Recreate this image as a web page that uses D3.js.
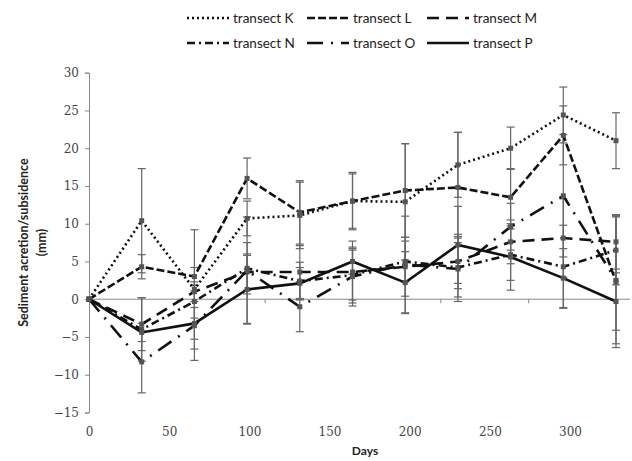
<!DOCTYPE html>
<html>
<head>
<meta charset="utf-8">
<script src="https://cdn.jsdelivr.net/npm/d3@7"></script>
<style>
  body { margin: 0; background: #fff; }
  svg text { font-family: Lato, "Open Sans", sans-serif; }
</style>
</head>
<body>
<svg id="chart" width="632" height="461"></svg>
<script>
const days = [0, 30, 60, 90, 120, 150, 180, 210, 240, 270, 300];
const seriesNames = ['transect K', 'transect L', 'transect M', 'transect N', 'transect O', 'transect P'];

const valuesK = [0, 10.4, 1.3, 10.7, 11.1, 13.0, 12.9, 17.8, 20.0, 24.4, 21.0];
const valuesL = [0, 4.3, 3.0, 16.0, 11.5, 13.0, 14.4, 14.8, 13.5, 21.7, 2.3];
const valuesM = [0, -3.3, 1.0, 3.6, 3.6, 3.6, 4.3, 5.0, 7.6, 8.1, 7.6];
const valuesN = [0, -4.0, -0.3, 4.1, 2.4, 3.2, 5.0, 4.2, 5.9, 4.3, 6.5];
const valuesO = [0, -8.3, -3.5, 3.8, -1.0, 3.0, 4.6, 4.0, 9.6, 13.7, 2.5];
const valuesP = [0, -4.4, -3.2, 1.3, 2.1, 5.0, 2.2, 7.2, 5.6, 2.8, -0.3];

const errK = [0, 6.9, 7.9, 2.3, 4.4, 3.8, 7.7, 4.3, 2.8, 3.7, 3.7];
const errL = [0, 1.6, 1.2, 2.7, 4.2, 3.6, 6.2, 7.3, 3.8, 3.9, 8.7];
const errM = [0, 3.5, 1.3, 2.4, 3.5, 4.1, 3.9, 3.6, 2.9, 5.2, 3.6];
const errN = [0, 4.2, 2.2, 3.4, 2.5, 3.3, 2.7, 3.9, 3.4, 5.5, 4.6];
const errO = [0, 4.1, 4.6, 7.1, 3.3, 3.9, 6.4, 4.3, 3.1, 8.1, 8.4];
const errP = [0, 1.2, 2.1, 4.5, 2.1, 1.7, 4.1, 5.1, 4.4, 3.9, 3.8];

const yTicks = [-15, -10, -5, 0, 5, 10, 15, 20, 25, 30];
const xTickLabels = [0, 50, 100, 150, 200, 250, 300];

const allValues = [valuesK, valuesL, valuesM, valuesN, valuesO, valuesP];
const allErrors = [errK, errL, errM, errN, errO, errP];

// dash patterns, same order as the series
const dashes = ['2,3', '8,3', '12,7', '8,4,2,4', '16,8,2,8', null];

const svg = d3.select('#chart');

const x = d3.scaleLinear().domain([0, 300]).range([89, 616]);
const y = d3.scaleLinear().domain([-15, 30]).range([412.5, 72.7]);
// the day labels under the chart sit on their own spacing
const xLabel = d3.scaleLinear().domain([0, 300]).range([89, 570]);

// y axis
const yAxis = svg.append('g')
  .attr('transform', `translate(${x(0)},0)`)
  .call(d3.axisLeft(y).tickValues(yTicks).tickSize(4).tickPadding(6));
yAxis.selectAll('path, line').attr('stroke', '#888');
yAxis.selectAll('text')
  .style('font-family', '"DejaVu Serif", serif')
  .style('font-size', '12px').style('fill', '#444');

// zero line with small ticks
const zeroAxis = svg.append('g')
  .attr('transform', `translate(0,${y(0)})`)
  .call(d3.axisBottom(x).tickValues(xTickLabels.slice(1)).tickSize(4).tickFormat(''));
zeroAxis.select('.domain').remove();
zeroAxis.selectAll('line').attr('stroke', '#888');
svg.append('line')
  .attr('x1', x(0)).attr('x2', 630)
  .attr('y1', y(0)).attr('y2', y(0))
  .attr('stroke', '#888');

// day labels
const labelAxis = svg.append('g')
  .attr('transform', 'translate(0,424)')
  .call(d3.axisBottom(xLabel).tickValues(xTickLabels).tickSize(0));
labelAxis.select('.domain').remove();
labelAxis.selectAll('text')
  .style('font-family', '"DejaVu Serif", serif')
  .style('font-size', '12px').style('fill', '#444');

// axis titles
svg.append('text')
  .attr('x', 365).attr('y', 455)
  .attr('text-anchor', 'middle')
  .style('font-size', '12px').style('font-weight', 'bold').style('fill', '#222')
  .text('Days');

const yTitle = svg.append('text')
  .attr('transform', `translate(0,${(y(-15) + y(30)) / 2}) rotate(-90)`)
  .attr('text-anchor', 'middle')
  .style('font-size', '12.5px').style('font-weight', 'bold').style('fill', '#222');
yTitle.append('tspan').attr('x', 0).attr('y', 28).text('Sediment acretion/subsidence');
yTitle.append('tspan').attr('x', 0).attr('y', 46).text('(mm)');

// error bars first, then lines and markers
allValues.forEach((vals, s) => {
  const errs = allErrors[s];
  const g = svg.append('g').attr('class', 'err');
  days.forEach((d, i) => {
    if (errs[i] === 0) return;
    const cx = x(d);
    const top = y(vals[i] + errs[i]);
    const bot = y(vals[i] - errs[i]);
    g.append('line').attr('x1', cx).attr('x2', cx).attr('y1', top).attr('y2', bot);
    g.append('line').attr('x1', cx - 4).attr('x2', cx + 4).attr('y1', top).attr('y2', top);
    g.append('line').attr('x1', cx - 4).attr('x2', cx + 4).attr('y1', bot).attr('y2', bot);
  });
  g.selectAll('line').attr('stroke', '#666').attr('stroke-width', 1.2);
});

const line = d3.line().x((d, i) => x(days[i])).y(d => y(d));

allValues.forEach((vals, s) => {
  svg.append('path')
    .datum(vals)
    .attr('d', line)
    .attr('fill', 'none')
    .attr('stroke', '#111')
    .attr('stroke-width', 2.6)
    .attr('stroke-dasharray', dashes[s]);

  svg.append('g').selectAll('rect')
    .data(vals)
    .enter()
    .append('rect')
    .attr('x', (d, i) => x(days[i]) - 2.5)
    .attr('y', d => y(d) - 2.5)
    .attr('width', 5).attr('height', 5)
    .attr('fill', '#555');
});

// legend, two rows of three
const legend = svg.append('g');
seriesNames.forEach((name, s) => {
  const col = s % 3, row = Math.floor(s / 3);
  const tx = 233 + col * 120;
  const ty = 18 + row * 25;
  legend.append('line')
    .attr('x1', tx - 46).attr('x2', tx - 4)
    .attr('y1', ty).attr('y2', ty)
    .attr('stroke', '#111').attr('stroke-width', 2.6)
    .attr('stroke-dasharray', dashes[s]);
  legend.append('text')
    .attr('x', tx).attr('y', ty + 4.5)
    .style('font-size', '13.5px')
    .style('fill', '#222')
    .text(name);
});
</script>
</body>
</html>
